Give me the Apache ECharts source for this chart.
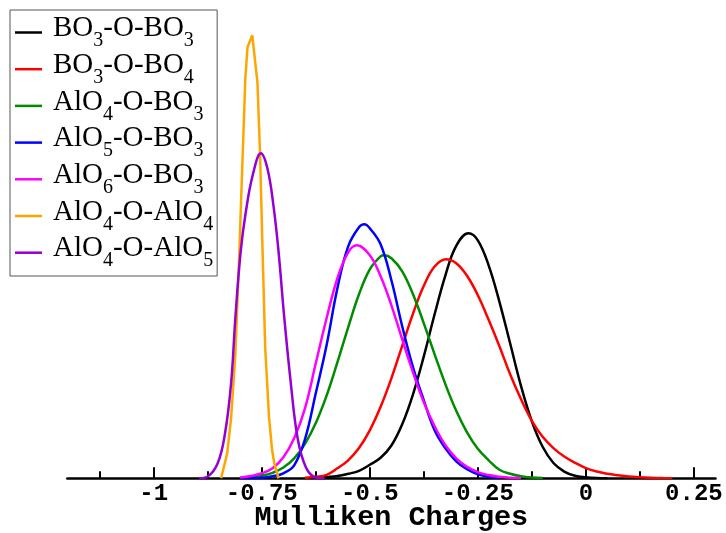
<!DOCTYPE html>
<html><head><meta charset="utf-8">
<script src="https://cdn.jsdelivr.net/npm/echarts@6/dist/echarts.min.js"></script>
<style>html,body{margin:0;padding:0;background:#fff}#c{width:726px;height:533px}</style>
</head><body><div id="c"></div>
<script>
// ---- data ----
const seriesNames = ['BO3-O-BO3','BO3-O-BO4','AlO4-O-BO3','AlO5-O-BO3','AlO6-O-BO3','AlO4-O-AlO4','AlO4-O-AlO5'];
const seriesColors = ['#000000','#ff0000','#008b00','#0000ff','#ff00ff','#ffa500','#9400d3'];
const tickValues = [-1,-0.75,-0.5,-0.25,0,0.25];
const tickLabels = ['-1','-0.75','-0.5','-0.25','0','0.25'];
const minorTickValues = [-1.125,-0.875,-0.625,-0.375,-0.125,0.125];
const xTitle = 'Mulliken Charges';

const xBO3BO3 = [-0.625,-0.6,-0.575,-0.55,-0.525,-0.5,-0.475,-0.45,-0.425,-0.4,-0.375,-0.35,-0.325,-0.3,-0.2715,-0.25,-0.225,-0.2,-0.175,-0.15,-0.125,-0.1,-0.075,-0.05,-0.025,0,0.025,0.05];
const yBO3BO3 = [0.02,0.05,0.09,0.18,0.3,0.54,0.82,1.31,2.16,3.36,4.88,6.56,8.12,9.3,9.8,9.52,8.52,7.06,5.38,3.69,2.28,1.26,0.61,0.27,0.1,0.04,0.01,0];

const xBO3BO4 = [-0.65,-0.625,-0.6,-0.575,-0.55,-0.525,-0.5,-0.475,-0.45,-0.425,-0.4,-0.375,-0.35,-0.3235,-0.3,-0.275,-0.25,-0.225,-0.2,-0.175,-0.15,-0.125,-0.1,-0.075,-0.05,-0.025,0,0.025,0.05,0.075,0.1,0.125,0.15,0.175,0.2];
const yBO3BO4 = [0.02,0.06,0.14,0.4,0.72,1.21,1.92,2.86,4.0,5.3,6.59,7.7,8.47,8.76,8.6,8.1,7.32,6.34,5.28,4.15,3.16,2.3,1.66,1.21,0.87,0.62,0.41,0.27,0.18,0.12,0.07,0.04,0.02,0.01,0];

const xAlO4BO3 = [-0.775,-0.75,-0.725,-0.7,-0.675,-0.65,-0.625,-0.6,-0.575,-0.55,-0.525,-0.5,-0.475,-0.4665,-0.45,-0.425,-0.4,-0.375,-0.35,-0.325,-0.3,-0.275,-0.25,-0.225,-0.2,-0.175,-0.15,-0.125,-0.1];
const yAlO4BO3 = [0.04,0.1,0.22,0.43,0.8,1.38,2.21,3.31,4.64,6.04,7.36,8.36,8.88,8.92,8.8,8.28,7.36,6.2,4.96,3.76,2.7,1.84,1.18,0.72,0.34,0.18,0.08,0.03,0.01];

const xAlO5BO3 = [-0.8,-0.775,-0.75,-0.725,-0.7,-0.675,-0.65,-0.625,-0.6,-0.575,-0.55,-0.525,-0.5125,-0.5,-0.475,-0.45,-0.425,-0.4,-0.375,-0.35,-0.325,-0.3,-0.275,-0.25,-0.225,-0.2];
const yAlO5BO3 = [0,0.01,0.02,0.08,0.2,0.52,1.56,3.4,5.32,7.6,9.28,10.04,10.16,10.0,9.36,7.92,6.08,4.44,3.12,1.92,1.2,0.68,0.36,0.16,0.06,0.02];

const xAlO6BO3 = [-0.8,-0.775,-0.75,-0.725,-0.7,-0.675,-0.65,-0.625,-0.6,-0.575,-0.55,-0.53,-0.5,-0.475,-0.45,-0.425,-0.4,-0.375,-0.35,-0.325,-0.3,-0.275,-0.25,-0.225,-0.2,-0.175,-0.15];
const yAlO6BO3 = [0.03,0.09,0.2,0.4,0.84,1.6,2.8,4.6,6.4,8.0,9.04,9.32,8.92,8.08,6.92,5.56,4.24,3.04,2.08,1.32,0.8,0.46,0.25,0.13,0.06,0.02,0.01];

const xAlO4AlO4 = [-0.844,-0.830,-0.821,-0.811,-0.802,-0.794,-0.788,-0.783,-0.772,-0.760,-0.754,-0.748,-0.742,-0.733,-0.726,-0.721,-0.711];
const yAlO4AlO4 = [0,1.0,2.4,5.0,9.0,13.0,16.0,17.24,17.72,15.84,13.0,9.0,5.2,2.4,1.12,0.6,0];

const xAlO4AlO5 = [-0.895,-0.876,-0.852,-0.835,-0.821,-0.811,-0.799,-0.787,-0.771,-0.752,-0.737,-0.723,-0.711,-0.698,-0.682,-0.667,-0.649,-0.629,-0.605];
const yAlO4AlO5 = [0,0.06,0.6,1.8,3.8,6.44,9.04,10.64,12.12,13.0,12.4,10.92,9.04,6.44,3.68,1.6,0.48,0.06,0];

const seriesX = [xBO3BO3,xBO3BO4,xAlO4BO3,xAlO5BO3,xAlO6BO3,xAlO4AlO4,xAlO4AlO5];
const seriesY = [yBO3BO3,yBO3BO4,yAlO4BO3,yAlO5BO3,yAlO6BO3,yAlO4AlO4,yAlO4AlO5];
const seriesSmooth = [true,true,true,true,true,false,true];

// ---- chart ----
const chart = echarts.init(document.getElementById('c'), null, {renderer:'canvas'});
const monoFont = 'Liberation Mono';
const serifFont = 'Liberation Serif';

const series = seriesNames.map((n,i)=>({
  name:n, type:'line', xAxisIndex:0, yAxisIndex:0,
  data: seriesX[i].map((x,k)=>[x, seriesY[i][k]]),
  showSymbol:false, symbol:'none',
  smooth: seriesSmooth[i] ? 0.4 : false,
  lineStyle:{color:seriesColors[i], width:2.5},
  itemStyle:{color:seriesColors[i]},
  emphasis:{disabled:true}
}));

chart.setOption({
  animation:false,
  backgroundColor:'#ffffff',
  grid:{left:67.3, right:10.5, top:28.3, bottom:54.7, outerBoundsMode:'none', containLabel:false},
  xAxis:[{
    type:'value', min:-1.2, max:0.3, position:'bottom',
    axisLine:{show:true, onZero:false, lineStyle:{color:'#000', width:2.5}},
    axisTick:{show:true, inside:true, length:11, customValues:tickValues, lineStyle:{color:'#000', width:2}},
    axisLabel:{show:true, customValues:tickValues,
      formatter:(v)=>{ const i = tickValues.findIndex(t=>Math.abs(t-v)<1e-9); return i>=0?tickLabels[i]:''; },
      fontFamily:monoFont, fontWeight:'bold', fontSize:24, color:'#000', margin:3.5},
    splitLine:{show:false},
    name:xTitle, nameLocation:'middle', nameGap:25, nameMoveOverlap:false,
    nameTextStyle:{fontFamily:monoFont, fontWeight:'bold', fontSize:28.5, color:'#000'}
  },{
    type:'value', min:-1.2, max:0.3, position:'bottom', gridIndex:0,
    axisLine:{show:false},
    axisTick:{show:true, inside:true, length:7, customValues:minorTickValues, lineStyle:{color:'#000', width:2}},
    axisLabel:{show:false},
    splitLine:{show:false}
  }],
  yAxis:{type:'value', min:0, max:18, show:false},
  legend:{
    orient:'vertical', left:10, top:10,
    padding:[4,4,4.8,5],
    itemWidth:27, itemHeight:2.5, itemGap:-0.3,
    icon:'rect',
    backgroundColor:'#fff', borderColor:'#555', borderWidth:1, borderRadius:0,
    data:seriesNames,
    selectedMode:false,
    formatter:(name)=>name.replace(/([^0-9]+)|([0-9]+)/g,(m,a,b)=> a ? '{n|'+a+'}' : '{s|'+b+'}'),
    textStyle:{
      padding:[0,0,0,6],
      rich:{
        n:{fontFamily:serifFont, fontSize:29, lineHeight:29, verticalAlign:'top', color:'#000'},
        s:{fontFamily:serifFont, fontSize:20, lineHeight:37, padding:[16.7,0,0,0], verticalAlign:'bottom', color:'#000'}
      }
    }
  },
  series:series
});
</script>
</body></html>
